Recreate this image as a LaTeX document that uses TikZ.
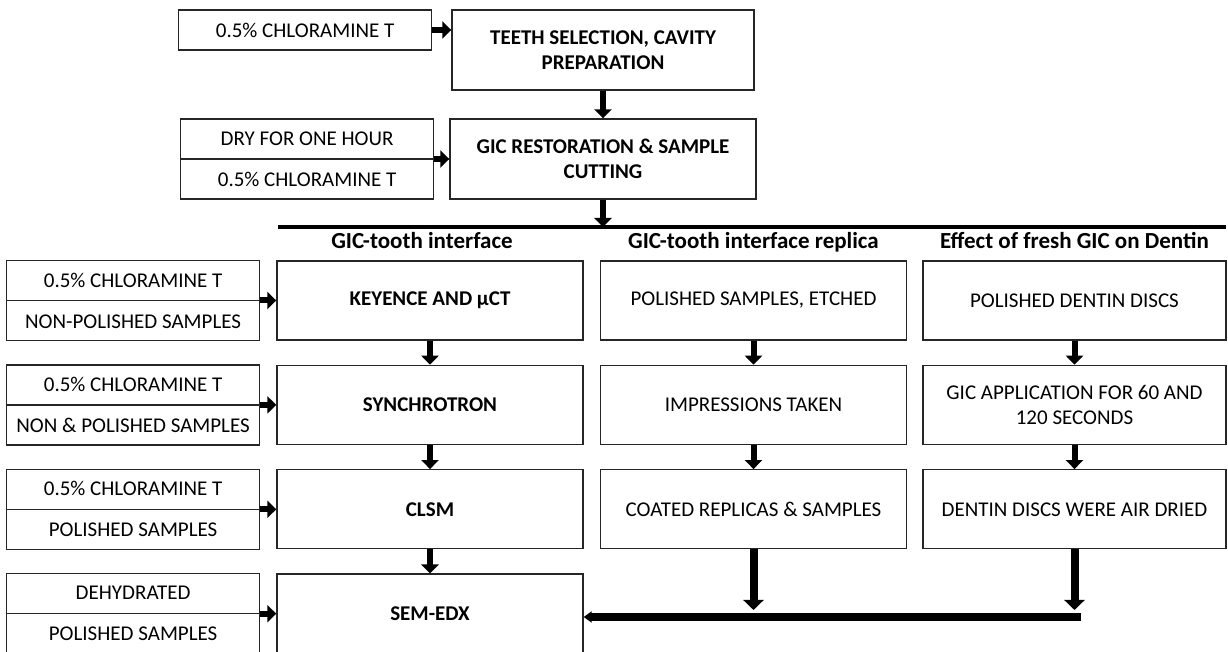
\documentclass[tikz,border=0pt]{standalone}
\usepackage{fontspec}
\setmainfont{Carlito}
\usepackage{tikz}
\usetikzlibrary{arrows.meta, positioning, calc}
\tikzstyle{mainbox} = [rectangle, draw=black!85, line width=0.7pt, minimum width=153pt, minimum height=39.5pt, align=center, inner sep=2pt, font=\fontsize{10.5}{12.5}\selectfont]
\tikzstyle{bold} = [font=\fontsize{10.5}{12.5}\selectfont\bfseries]
\tikzstyle{sidebox} = [rectangle, draw=black!85, line width=0.7pt, minimum width=126.5pt, minimum height=20pt, inner sep=1pt, font=\fontsize{10.5}{12.5}\selectfont]
\tikzstyle{sidepair} = [sidebox, minimum height=40pt, align=center, font=\fontsize{10.5}{20.5}\selectfont]
\tikzstyle{divider} = [draw=black!85, line width=0.7pt]
\tikzstyle{head} = [inner sep=1pt, text height=8.5pt, text depth=2.5pt, font=\fontsize{11.5}{13}\selectfont\bfseries]
\tikzstyle{arrow} = [line width=3pt, -{Triangle[width=8.5pt,length=4.5pt]}]
\tikzstyle{bigarrow} = [line width=4pt, -{Triangle[width=10pt,length=5pt]}]

\begin{document}
\begin{tikzpicture}[x=0.5pt, y=-0.5pt, node distance=12pt]
  \useasboundingbox (0,0) rectangle (1228,652);
  % Preparation
  \node[mainbox, bold, minimum width=151pt, minimum height=40pt] (teeth) at (603,50) {TEETH SELECTION, CAVITY\\PREPARATION};
  \node[mainbox, bold, minimum height=40pt] (gic) at (603,159) {GIC RESTORATION \& SAMPLE\\CUTTING};
  \node[sidebox, left=9.5pt of teeth.north west, anchor=north east] (chlor0) {0.5\% CHLORAMINE T};
  \node[sidepair, left=7.5pt of gic] (dry) {DRY FOR ONE HOUR\\0.5\% CHLORAMINE T};
  \coordinate (bar w) at (278,227);
  \coordinate (bar e) at (1226,227);

  % GIC-tooth interface
  \node[mainbox, bold] (keyence) at (430,300.5) {KEYENCE AND µCT};
  \node[mainbox, bold, below=of keyence] (synchro) {SYNCHROTRON};
  \node[mainbox, bold, below=of synchro] (clsm) {CLSM};
  \node[mainbox, bold, below=of clsm] (sem) {SEM-EDX};
  \node[head, above=2pt of keyence, xshift=-4pt] (head1) {GIC-tooth interface};

  \node[sidepair, left=8pt of keyence] (k1) {0.5\% CHLORAMINE T\\NON-POLISHED SAMPLES};
  \node[sidepair, left=8pt of synchro] (s1) {0.5\% CHLORAMINE T\\NON \& POLISHED SAMPLES};
  \node[sidepair, left=8pt of clsm] (c1) {0.5\% CHLORAMINE T\\POLISHED SAMPLES};
  \node[sidepair, left=8pt of sem] (e1) {DEHYDRATED\\POLISHED SAMPLES};

  % GIC-tooth interface replica
  \node[mainbox] (polished) at (753.5,300.5) {POLISHED SAMPLES, ETCHED};
  \node[mainbox, below=of polished] (impress) {IMPRESSIONS TAKEN};
  \node[mainbox, below=of impress] (coated) {COATED REPLICAS \& SAMPLES};
  \node[head, above=2pt of polished] (head2) {GIC-tooth interface replica};

  % Effect of fresh GIC on Dentin
  \node[mainbox, minimum width=151.5pt] (discs) at (1074.5,300.5) {POLISHED DENTIN DISCS};
  \node[mainbox, minimum width=151.5pt, below=of discs] (apply) {GIC APPLICATION FOR 60 AND\\120 SECONDS};
  \node[mainbox, minimum width=151.5pt, below=of apply] (dried) {DENTIN DISCS WERE AIR DRIED};
  \node[head, above=2pt of discs] (head3) {Effect of fresh GIC on Dentin};
  \coordinate (join) at (1081,617);

  % dividers of the paired boxes
  \foreach \pair in {dry, k1, s1, c1, e1}
    \draw[divider] (\pair.west) -- (\pair.east);

  \draw[arrow] (chlor0.east) -- (chlor0.east -| teeth.west);
  \draw[arrow] (teeth) -- (gic);
  \draw[arrow] (dry) -- (gic);
  \draw[line width=1.75pt] (bar w) -- (bar e);
  \draw[arrow] (gic.south) -- (gic.south |- bar w);

  \draw[arrow] (k1) -- (keyence);
  \draw[arrow] (s1) -- (synchro);
  \draw[arrow] (c1) -- (clsm);
  \draw[arrow] (e1) -- (sem);
  \draw[arrow] (keyence) -- (synchro);
  \draw[arrow] (synchro) -- (clsm);
  \draw[arrow] (clsm) -- (sem);

  \draw[arrow] (polished) -- (impress);
  \draw[arrow] (impress) -- (coated);
  \draw[arrow] (discs) -- (apply);
  \draw[arrow] (apply) -- (dried);

  \draw[bigarrow, shorten >=3.5pt] (coated.south) -- (coated.south |- join);
  \draw[bigarrow, shorten >=3.5pt] (dried.south) -- (dried.south |- join);
  \draw[line width=3.5pt, -{Triangle[width=5.5pt,length=4pt]}] (join) -- (join -| sem.east);
\end{tikzpicture}
\end{document}
